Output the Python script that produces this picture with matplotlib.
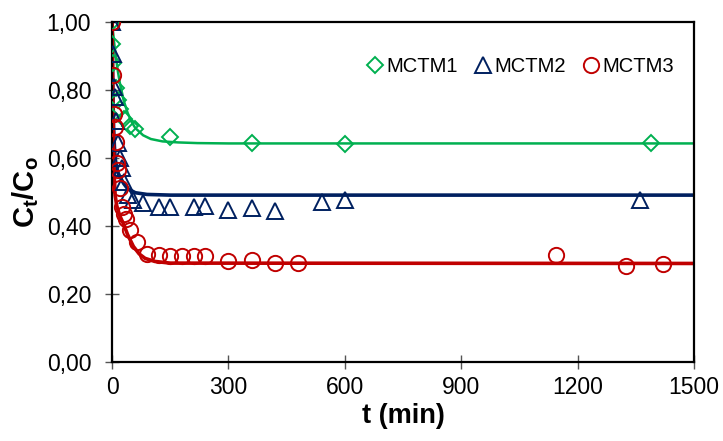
import matplotlib
matplotlib.use("Agg")
import matplotlib.pyplot as plt
from matplotlib.ticker import FuncFormatter

plt.rcParams['font.family'] = ['Liberation Sans', 'DejaVu Sans']
plt.rcParams['mathtext.fontset'] = 'custom'
plt.rcParams['mathtext.rm'] = 'Liberation Sans'
plt.rcParams['mathtext.bf'] = 'Liberation Sans:bold'

# measured points (t in min, Ct/Co)
t1 = [0, 1, 3, 10, 15, 20, 30, 45, 60, 150, 360, 600, 1390]
y1 = [1.00, 0.935, 0.88, 0.805, 0.77, 0.745, 0.715, 0.695, 0.685, 0.663, 0.645, 0.640, 0.643]

t2 = [0, 2, 5, 8, 10, 15, 20, 25, 30, 40, 55, 80, 120, 150, 210, 240, 300, 360, 420, 540, 600, 1360]
y2 = [1.00, 0.905, 0.81, 0.78, 0.71, 0.645, 0.60, 0.57, 0.53, 0.49, 0.478, 0.467, 0.457, 0.457,
      0.457, 0.459, 0.447, 0.452, 0.445, 0.471, 0.476, 0.476]

t3 = [0, 2, 5, 8, 10, 12, 15, 20, 25, 30, 35, 45, 65, 90, 120, 150, 180, 210, 240, 300, 360,
      420, 480, 1145, 1325, 1420]
y3 = [1.00, 0.845, 0.73, 0.69, 0.648, 0.584, 0.565, 0.511, 0.457, 0.435, 0.42, 0.388, 0.354,
      0.318, 0.315, 0.313, 0.313, 0.313, 0.313, 0.297, 0.300, 0.292, 0.290, 0.315, 0.283, 0.288]

# fitted curves
ft1 = [0, 5, 10, 15, 20, 30, 40, 50, 60, 80, 100, 130, 170, 220, 300, 1500]
fy1 = [1.0, 0.943, 0.895, 0.855, 0.821, 0.769, 0.733, 0.707, 0.688, 0.667, 0.656, 0.649, 0.646,
       0.644, 0.643, 0.643]

ft2 = [0, 2, 4, 6, 8, 12, 16, 20, 30, 40, 60, 90, 150, 1500]
fy2 = [1.0, 0.80, 0.69, 0.635, 0.60, 0.57, 0.555, 0.545, 0.525, 0.51, 0.498, 0.493, 0.491, 0.491]

ft3 = [0, 2, 4, 6, 8, 12, 20, 30, 40, 55, 70, 85, 110, 150, 1500]
fy3 = [1.0, 0.75, 0.62, 0.54, 0.49, 0.46, 0.43, 0.405, 0.375, 0.34, 0.318, 0.305, 0.296, 0.291, 0.290]

green = '#00B050'
blue = '#002060'
red = '#C00000'

fig = plt.figure(figsize=(7.23, 4.41), dpi=100)
ax = fig.add_axes([0.155, 0.179, 0.805, 0.771])

ax.plot(ft1, fy1, color=green, lw=1.8, zorder=2)
ax.plot(ft2, fy2, color=blue, lw=2.6, zorder=2)
ax.plot(ft3, fy3, color=red, lw=2.6, zorder=2)

ax.plot(t1, y1, 'D', ms=8, mfc='none', mec=green, mew=1.4, ls='none', label='MCTM1', zorder=3)
ax.plot(t2, y2, '^', ms=11, mfc='none', mec=blue, mew=1.4, ls='none', label='MCTM2', zorder=3)
ax.plot(t3, y3, 'o', ms=11, mfc='none', mec=red, mew=1.4, ls='none', label='MCTM3', zorder=3)

ax.set_xlim(0, 1500)
ax.set_ylim(0, 1.0)
ax.set_xticks([0, 300, 600, 900, 1200, 1500])
ax.set_yticks([0, 0.2, 0.4, 0.6, 0.8, 1.0])
ax.yaxis.set_major_formatter(FuncFormatter(lambda v, p: ('%.2f' % v).replace('.', ',')))

ax.tick_params(direction='inout', length=10, width=1, color='#555555', labelsize=16.5)
ax.tick_params(axis='y', pad=10)
ax.tick_params(axis='x', pad=5)
for s in ax.spines.values():
    s.set_linewidth(1.6)
    s.set_color('black')

ax.set_xlabel('t (min)', fontsize=19.5, fontweight='bold', labelpad=3)
ax.set_ylabel(r'$\mathbf{C_t/C_o}$', fontsize=21, labelpad=4)

ax.legend(loc='center', bbox_to_anchor=(0.70, 0.87), ncol=3, frameon=False, fontsize=14.5,
          handletextpad=0.05, columnspacing=0.75, handlelength=1.0, borderpad=0.2)

fig.savefig('out.png', dpi=100)
